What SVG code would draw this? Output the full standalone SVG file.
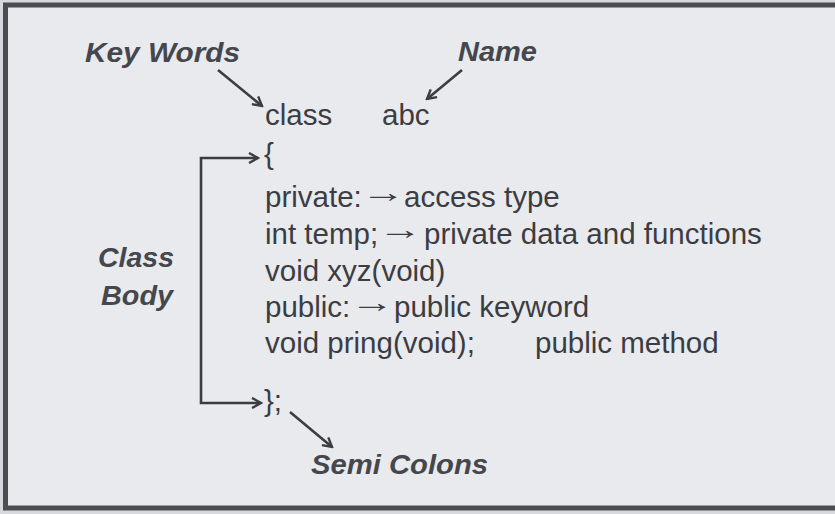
<svg xmlns="http://www.w3.org/2000/svg" width="835" height="514" viewBox="0 0 835 514">
  <style>
    .code { font-family: "Liberation Sans", Arial, sans-serif; font-size: 29.5px; fill: #3b3d42; }
    .arr { font-family: "Liberation Sans", Arial, sans-serif; font-size: 29.5px; fill: #3b3d42; text-anchor: middle; }
    .label { font-family: "Liberation Sans", Arial, sans-serif; font-size: 27px; font-weight: bold; font-style: italic; fill: #45474c; }
    .conn { fill: none; stroke: #3b3d42; stroke-width: 2.6; }
  </style>
  <defs>
    <marker id="head" viewBox="0 0 12 12" refX="10" refY="6" markerWidth="12" markerHeight="12" markerUnits="userSpaceOnUse" orient="auto-start-reverse">
      <path d="M1,1 L10,6 L1,11" fill="none" stroke="#3b3d42" stroke-width="2.4" stroke-linejoin="miter"/>
    </marker>
  </defs>

  <!-- page and frame (the frame runs on past the right edge) -->
  <rect x="0" y="0" width="835" height="514" fill="#d8d9de"/>
  <rect x="5.5" y="5" width="900" height="503" fill="#e9eaee" stroke="#4a4d52" stroke-width="5"/>

  <!-- annotation labels -->
  <g id="label-keywords"><text class="label" x="85" y="62" textLength="155" lengthAdjust="spacingAndGlyphs">Key Words</text></g>
  <g id="label-name"><text class="label" x="458" y="61" textLength="79" lengthAdjust="spacingAndGlyphs">Name</text></g>
  <g id="label-classbody">
    <text class="label" x="98" y="267" textLength="76" lengthAdjust="spacingAndGlyphs">Class</text>
    <text class="label" x="101" y="305" textLength="72" lengthAdjust="spacingAndGlyphs">Body</text>
  </g>
  <g id="label-semicolons"><text class="label" x="311" y="474" textLength="177" lengthAdjust="spacingAndGlyphs">Semi Colons</text></g>

  <!-- class listing -->
  <g id="code">
    <text class="code" x="265" y="125">class</text>
    <text class="code" x="382" y="125">abc</text>
    <text class="code" x="264" y="164">{</text>

    <text class="code" x="265" y="207">private:</text>
    <text class="arr" transform="translate(383,202) scale(1.5,1)">→</text>
    <text class="code" x="404" y="207">access type</text>

    <text class="code" x="265" y="244">int temp;</text>
    <text class="arr" transform="translate(400,239) scale(1.5,1)">→</text>
    <text class="code" x="424" y="244">private data and functions</text>

    <text class="code" x="265" y="281">void xyz(void)</text>

    <text class="code" x="265" y="317">public:</text>
    <text class="arr" transform="translate(372,312) scale(1.5,1)">→</text>
    <text class="code" x="394" y="317">public keyword</text>

    <text class="code" x="265" y="353">void pring(void);</text>
    <text class="code" x="535" y="353">public method</text>
    <text class="code" x="264" y="411">};</text>
  </g>

  <!-- connectors -->
  <g id="connectors">
    <path class="conn" d="M218,70 L262,106" marker-end="url(#head)"/>
    <path class="conn" d="M462,70 L427,99" marker-end="url(#head)"/>
    <path class="conn" d="M258,158 H201 V403 H261" marker-start="url(#head)" marker-end="url(#head)"/>
    <path class="conn" d="M290,412 L332,447" marker-end="url(#head)"/>
  </g>
</svg>
